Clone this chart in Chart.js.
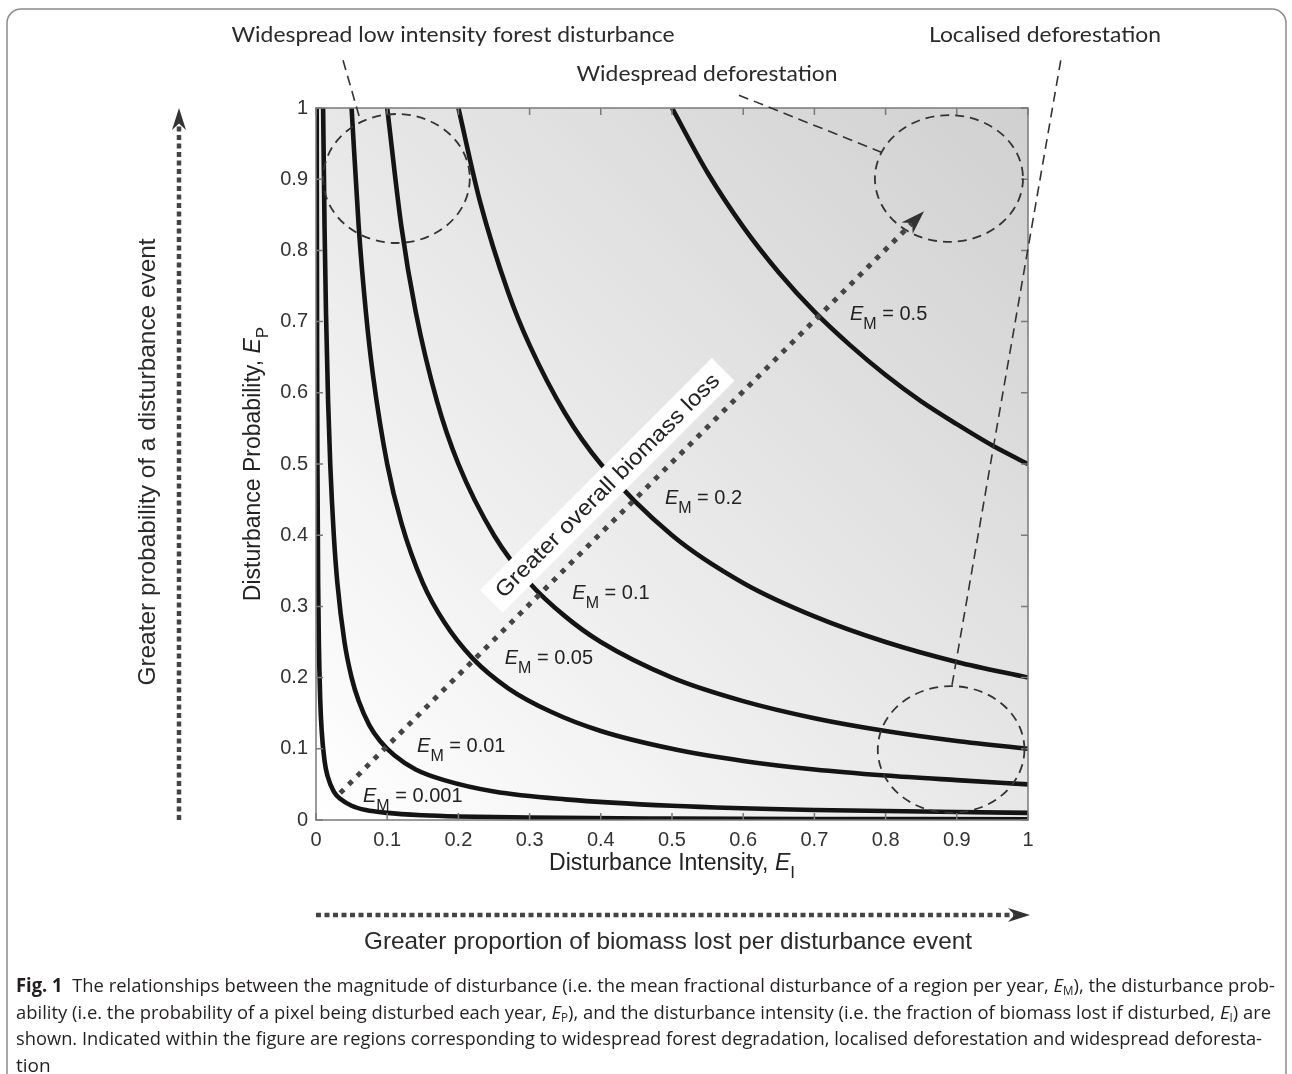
<!DOCTYPE html>
<html>
<head>
<meta charset="utf-8">
<title>Disturbance magnitude, probability and intensity</title>
<script src="https://cdn.jsdelivr.net/npm/chart.js@4.4.1/dist/chart.umd.min.js"></script>
<style>
  html, body { margin: 0; padding: 0; background: #fff; }
  #wrap { position: relative; width: 1292px; height: 1074px; overflow: hidden; }
  #chart { position: absolute; left: 0; top: 0; }
  #caption {
    position: absolute; left: 16px; top: 972px; width: 1262px;
    font-family: "Liberation Sans Narrow", "Open Sans", sans-serif;
    font-size: 19px; color: #231f20;
  }
  #caption .line { height: 26.5px; line-height: 26.5px; white-space: nowrap; }
  #caption .line span { display: inline-block; transform-origin: 0 50%; }
  #caption sub { font-size: 12px; vertical-align: -3px; line-height: 0; }
</style>
</head>
<body>
<div id="wrap">
  <canvas id="chart" width="1292" height="1074"></canvas>
  <div id="caption">
    <div class="line"><span><b>Fig. 1</b>&nbsp; The relationships between the magnitude of disturbance (i.e. the mean fractional disturbance of a region per year, <i>E</i><sub>M</sub>), the disturbance prob-</span></div>
    <div class="line"><span>ability (i.e. the probability of a pixel being disturbed each year, <i>E</i><sub>P</sub>), and the disturbance intensity (i.e. the fraction of biomass lost if disturbed, <i>E</i><sub>I</sub>) are</span></div>
    <div class="line"><span>shown. Indicated within the figure are regions corresponding to widespread forest degradation, localised deforestation and widespread deforesta-</span></div>
    <div class="line"><span>tion</span></div>
  </div>
</div>
<script>
// disturbance magnitude levels (one curve each)
const emLevels = [0.001, 0.01, 0.05, 0.1, 0.2, 0.5];
const emLabels = ["0.001", "0.01", "0.05", "0.1", "0.2", "0.5"];

// points: intensity (x) and probability (y)
const intensity001 = [0.001, 0.0015, 0.002, 0.003, 0.004, 0.006, 0.008, 0.012, 0.016, 0.025, 0.035, 0.05, 0.07, 0.1, 0.15, 0.2, 0.3, 0.5, 0.7, 1.0];
const probability001 = [1.0, 0.667, 0.5, 0.333, 0.25, 0.167, 0.125, 0.083, 0.0625, 0.04, 0.029, 0.02, 0.014, 0.01, 0.0067, 0.005, 0.0033, 0.002, 0.0014, 0.001];

const intensity01 = [0.01, 0.012, 0.014, 0.017, 0.02, 0.025, 0.03, 0.04, 0.05, 0.06, 0.075, 0.09, 0.11, 0.14, 0.18, 0.25, 0.35, 0.5, 0.7, 1.0];
const probability01 = [1.0, 0.833, 0.714, 0.588, 0.5, 0.4, 0.333, 0.25, 0.2, 0.167, 0.133, 0.111, 0.091, 0.071, 0.056, 0.04, 0.029, 0.02, 0.014, 0.01];

const intensity05 = [0.05, 0.06, 0.07, 0.08, 0.1, 0.12, 0.15, 0.18, 0.22, 0.27, 0.33, 0.4, 0.5, 0.6, 0.7, 0.8, 0.9, 1.0];
const probability05 = [1.0, 0.833, 0.714, 0.625, 0.5, 0.417, 0.333, 0.278, 0.227, 0.185, 0.152, 0.125, 0.1, 0.083, 0.071, 0.0625, 0.056, 0.05];

const intensity1 = [0.1, 0.12, 0.14, 0.17, 0.2, 0.25, 0.3, 0.35, 0.4, 0.5, 0.6, 0.7, 0.8, 0.9, 1.0];
const probability1 = [1.0, 0.833, 0.714, 0.588, 0.5, 0.4, 0.333, 0.286, 0.25, 0.2, 0.167, 0.143, 0.125, 0.111, 0.1];

const intensity2 = [0.2, 0.23, 0.27, 0.3, 0.35, 0.4, 0.5, 0.6, 0.7, 0.8, 0.9, 1.0];
const probability2 = [1.0, 0.87, 0.741, 0.667, 0.571, 0.5, 0.4, 0.333, 0.286, 0.25, 0.222, 0.2];

const intensity5 = [0.5, 0.55, 0.6, 0.65, 0.7, 0.75, 0.8, 0.85, 0.9, 0.95, 1.0];
const probability5 = [1.0, 0.909, 0.833, 0.769, 0.714, 0.667, 0.625, 0.588, 0.556, 0.526, 0.5];

const tickValues = [0, 0.1, 0.2, 0.3, 0.4, 0.5, 0.6, 0.7, 0.8, 0.9, 1];
const tickLabels = ["0", "0.1", "0.2", "0.3", "0.4", "0.5", "0.6", "0.7", "0.8", "0.9", "1"];

// where the E_M labels sit (data units, baseline-left)
const labelAnchors = [[0.066, 0.025], [0.142, 0.0955], [0.265, 0.219], [0.36, 0.31], [0.49, 0.444], [0.75, 0.702]];

// dashed region circles (data units)
const regionCircles = [
  { cx: 0.113, cy: 0.901, rx: 0.103, ry: 0.0906 },
  { cx: 0.889, cy: 0.901, rx: 0.104, ry: 0.089 },
  { cx: 0.892, cy: 0.099, rx: 0.103, ry: 0.089 },
];
// leader lines from the region names (data units)
const leaders = [
  [0.038, 1.067, 0.063, 0.98],
  [0.594, 1.018, 0.794, 0.938],
  [1.046, 1.067, 0.893, 0.188],
];

const curveX = [intensity001, intensity01, intensity05, intensity1, intensity2, intensity5];
const curveY = [probability001, probability01, probability05, probability1, probability2, probability5];

const SANS = "'Liberation Sans', Arial, sans-serif";
Chart.defaults.font.family = SANS;

function fitText(ctx, text, x, y, width) {
  const w = ctx.measureText(text).width;
  ctx.save();
  ctx.translate(x, y);
  ctx.scale(width / w, 1);
  ctx.textAlign = "left";
  ctx.fillText(text, -w / 2, 0);
  ctx.restore();
}

function drawRich(ctx, parts, x, y, centered) {
  let w = 0;
  parts.forEach(p => { ctx.font = p.font; w += ctx.measureText(p.t).width; });
  let cur = centered ? x - w / 2 : x;
  ctx.textAlign = "left";
  ctx.textBaseline = "alphabetic";
  parts.forEach(p => {
    ctx.font = p.font;
    ctx.fillText(p.t, cur, y + (p.dy || 0));
    cur += ctx.measureText(p.t).width;
  });
}

function arrowHead(ctx, tx, ty, ang, len, half) {
  ctx.save();
  ctx.translate(tx, ty);
  ctx.rotate(ang);
  ctx.beginPath();
  ctx.moveTo(0, 0);
  ctx.lineTo(-len, -half);
  ctx.lineTo(-len * 0.7, 0);
  ctx.lineTo(-len, half);
  ctx.closePath();
  ctx.fill();
  ctx.restore();
}

function dotted(ctx, x1, y1, x2, y2, dash, lw) {
  ctx.save();
  ctx.setLineDash(dash);
  ctx.lineWidth = lw;
  ctx.lineCap = "butt";
  ctx.beginPath();
  ctx.moveTo(x1, y1);
  ctx.lineTo(x2, y2);
  ctx.stroke();
  ctx.restore();
}

const figurePlugin = {
  id: "figure",
  beforeDatasetsDraw(chart) {
    const { ctx, chartArea: a } = chart;
    const g = ctx.createLinearGradient(a.left, a.bottom, a.right, a.top);
    g.addColorStop(0, "#ffffff");
    g.addColorStop(1, "#d0d0d0");
    ctx.save();
    ctx.fillStyle = g;
    ctx.fillRect(a.left, a.top, a.right - a.left, a.bottom - a.top);
    ctx.restore();
  },
  afterDatasetsDraw(chart) {
    const { ctx, chartArea: a } = chart;
    const sx = chart.scales.x, sy = chart.scales.y;
    const X = v => sx.getPixelForValue(v), Y = v => sy.getPixelForValue(v);
    const unitX = X(1) - X(0), unitY = Y(0) - Y(1);
    ctx.save();

    // box and inward ticks
    ctx.strokeStyle = "#7a7a7a";
    ctx.lineWidth = 1.5;
    ctx.strokeRect(a.left, a.top, a.right - a.left, a.bottom - a.top);
    ctx.beginPath();
    tickValues.forEach(v => {
      ctx.moveTo(X(v), a.bottom); ctx.lineTo(X(v), a.bottom - 7);
      ctx.moveTo(X(v), a.top); ctx.lineTo(X(v), a.top + 7);
      ctx.moveTo(a.left, Y(v)); ctx.lineTo(a.left + 7, Y(v));
      ctx.moveTo(a.right, Y(v)); ctx.lineTo(a.right - 7, Y(v));
    });
    ctx.stroke();

    // region circles and leaders
    ctx.strokeStyle = "#333";
    ctx.lineWidth = 1.8;
    ctx.setLineDash([9, 6]);
    regionCircles.forEach(c => {
      ctx.beginPath();
      ctx.ellipse(X(c.cx), Y(c.cy), c.rx * unitX, c.ry * unitY, 0, 0, Math.PI * 2);
      ctx.stroke();
    });
    ctx.lineWidth = 1.6;
    ctx.setLineDash([10, 6]);
    leaders.forEach(l => {
      ctx.beginPath();
      ctx.moveTo(X(l[0]), Y(l[1]));
      ctx.lineTo(X(l[2]), Y(l[3]));
      ctx.stroke();
    });
    ctx.setLineDash([]);

    // diagonal dotted arrow
    const x1 = X(0.034), y1 = Y(0.038), x2 = X(0.854), y2 = Y(0.855);
    const ang = Math.atan2(y2 - y1, x2 - x1);
    ctx.strokeStyle = "#444";
    ctx.fillStyle = "#333";
    dotted(ctx, x1, y1, x2 - 16 * Math.cos(ang), y2 - 16 * Math.sin(ang), [5, 7], 5);
    arrowHead(ctx, x2, y2, ang, 24, 8);

    // rotated label on white box
    ctx.save();
    ctx.translate(X(0.409), Y(0.47));
    ctx.rotate(-Math.PI / 4);
    ctx.fillStyle = "#fff";
    ctx.fillRect(-164, -16, 328, 32);
    ctx.fillStyle = "#222";
    ctx.font = "22px " + SANS;
    ctx.textBaseline = "middle";
    fitText(ctx, "Greater overall biomass loss", 0, 1, 307);
    ctx.restore();

    // E_M labels
    ctx.fillStyle = "#222";
    emLabels.forEach((lab, i) => {
      const p = labelAnchors[i];
      drawRich(ctx, [
        { t: "E", font: "italic 20px " + SANS },
        { t: "M", font: "16px " + SANS, dy: 9 },
        { t: " = " + lab, font: "20px " + SANS },
      ], X(p[0]), Y(p[1]), false);
    });
    ctx.restore();
  },
  afterDraw(chart) {
    const { ctx, chartArea: a } = chart;
    ctx.save();
    ctx.fillStyle = "#222";

    // axis titles
    drawRich(ctx, [
      { t: "Disturbance Intensity, ", font: "23px " + SANS },
      { t: "E", font: "italic 23px " + SANS },
      { t: "I", font: "17px " + SANS, dy: 8 },
    ], (a.left + a.right) / 2, 870, true);
    ctx.save();
    ctx.translate(260, (a.top + a.bottom) / 2);
    ctx.rotate(-Math.PI / 2);
    drawRich(ctx, [
      { t: "Disturbance Probability, ", font: "23px " + SANS },
      { t: "E", font: "italic 23px " + SANS },
      { t: "P", font: "17px " + SANS, dy: 8 },
    ], 0, 0, true);
    ctx.restore();

    // side arrows
    ctx.strokeStyle = "#444";
    ctx.fillStyle = "#333";
    dotted(ctx, 179, a.bottom, 179, a.top + 14, [5, 3.5], 4.5);
    arrowHead(ctx, 179, a.top, -Math.PI / 2, 22, 7);
    dotted(ctx, a.left, 915, a.right - 14, 915, [5, 3.5], 4.5);
    arrowHead(ctx, a.right + 2, 915, 0, 22, 7);

    ctx.fillStyle = "#2a2a2a";
    ctx.textBaseline = "middle";
    ctx.font = "24px " + SANS;
    ctx.save();
    ctx.translate(148, 462);
    ctx.rotate(-Math.PI / 2);
    fitText(ctx, "Greater probability of a disturbance event", 0, 0, 447);
    ctx.restore();
    fitText(ctx, "Greater proportion of biomass lost per disturbance event", 668, 942, 608);

    // region names
    ctx.font = "22px Lato, 'Open Sans', sans-serif";
    fitText(ctx, "Widespread low intensity forest disturbance", 453, 35, 443);
    fitText(ctx, "Localised deforestation", 1045, 35, 232);
    fitText(ctx, "Widespread deforestation", 707, 74, 261);

    // figure frame
    ctx.strokeStyle = "#8c8c8c";
    ctx.lineWidth = 1.5;
    ctx.beginPath();
    ctx.roundRect(7, 9, 1279, 1090, 14);
    ctx.stroke();
    ctx.restore();
  },
};

const datasets = emLevels.map((em, i) => ({
  label: "E_M = " + emLabels[i],
  data: curveX[i].map((x, j) => ({ x: x, y: curveY[i][j] })),
  showLine: true,
  pointRadius: 0,
  borderColor: "#141414",
  borderWidth: 4.6,
  cubicInterpolationMode: "monotone",
  fill: false,
}));

function axis(fitFn, pad) {
  return {
    type: "linear",
    min: 0,
    max: 1,
    afterBuildTicks: s => { s.ticks = tickValues.map(v => ({ value: v })); },
    afterFit: fitFn,
    grid: { display: false, drawTicks: false },
    border: { display: false },
    ticks: {
      autoSkip: false,
      maxRotation: 0,
      padding: pad,
      color: "#333",
      font: { size: 20 },
      callback: (v, i) => tickLabels[i],
    },
  };
}

new Chart(document.getElementById("chart").getContext("2d"), {
  type: "scatter",
  data: { datasets: datasets },
  options: {
    responsive: false,
    animation: false,
    layout: { padding: { left: 256, top: 108, right: 264, bottom: 214 } },
    plugins: { legend: { display: false }, tooltip: { enabled: false } },
    scales: {
      x: axis(s => { s.height = 40; }, 8),
      y: axis(s => { s.width = 60; }, 8),
    },
  },
  plugins: [figurePlugin],
});

// stretch caption lines to the justified widths
const lineWidths = [1259, 1255, 1246];
document.querySelectorAll("#caption .line span").forEach((span, i) => {
  if (i < lineWidths.length) {
    const w = span.getBoundingClientRect().width;
    span.style.transform = "scaleX(" + (lineWidths[i] / w) + ")";
  }
});
</script>
</body>
</html>
